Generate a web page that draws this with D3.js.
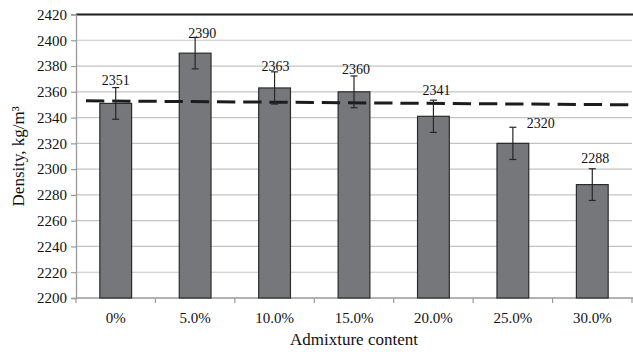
<!DOCTYPE html>
<html>
<head>
<meta charset="utf-8">
<script src="https://cdn.jsdelivr.net/npm/d3@7"></script>
<style>
  html, body { margin: 0; padding: 0; background: #fff; }
  svg { display: block; }
</style>
</head>
<body>
<svg id="chart" width="633" height="352"></svg>
<script>
// Density of the mixes by admixture content
const categories = ["0%", "5.0%", "10.0%", "15.0%", "20.0%", "25.0%", "30.0%"];
const density = [2351, 2390, 2363, 2360, 2341, 2320, 2288];
const errors = [12.3, 12.2, 12.5, 12.3, 12.5, 12.5, 12.3];
const yTicks = [2200, 2220, 2240, 2260, 2280, 2300, 2320, 2340, 2360, 2380, 2400, 2420];
// dashed reference line: category position (index) and value at each end
const trendPos = [-0.374, 6.5];
const trendValue = [2353.0, 2349.9];

// label nudges (px) for the value labels
const labelDx = [0, 7, 1, 2, 3, 28, 3];
const labelDy = [-18, -15.5, -16.5, -18, -21, -15.5, -22];

const FONT = "Liberation Serif";
const margin = { left: 76, right: 1, top: 14.5, bottom: 54 };
const W = 633, H = 352;
const svg = d3.select("#chart").attr("font-family", FONT);

const x = d3.scaleBand().domain(categories)
  .range([margin.left, W - margin.right]).paddingInner(0.6).paddingOuter(0.3);
const xBoundary = d3.scaleLinear().domain([-0.5, categories.length - 0.5])
  .range([margin.left, W - margin.right]);
const y = d3.scaleLinear().domain([2200, 2420]).range([H - margin.bottom, margin.top]);

// horizontal gridlines
svg.append("g").selectAll("line").data(yTicks.slice(1, -1)).join("line")
  .attr("x1", margin.left).attr("x2", W - margin.right)
  .attr("y1", d => y(d)).attr("y2", d => y(d))
  .attr("stroke", "#c4c4c4").attr("stroke-width", 1.2);

// top border
svg.append("line")
  .attr("x1", margin.left).attr("x2", W)
  .attr("y1", y(2420)).attr("y2", y(2420))
  .attr("stroke", "#1c1c1c").attr("stroke-width", 1.8);

// y axis
const yAxis = svg.append("g").attr("transform", `translate(${margin.left},0)`)
  .call(d3.axisLeft(y).tickValues(yTicks).tickSize(5).tickPadding(4).tickFormat(d3.format("d")));
yAxis.attr("font-family", FONT).attr("font-size", 15);
yAxis.select(".domain").attr("stroke", "#9a9a9a").attr("stroke-width", 1.3);
yAxis.selectAll(".tick line").attr("stroke", "#9a9a9a").attr("stroke-width", 1.2);
yAxis.selectAll(".tick text").attr("fill", "#111").attr("font-size", 15)
  .attr("font-family", FONT);

// x axis
const xAxisG = svg.append("g");
xAxisG.append("line")
  .attr("x1", margin.left).attr("x2", W)
  .attr("y1", y(2200)).attr("y2", y(2200))
  .attr("stroke", "#9a9a9a").attr("stroke-width", 1.3);
xAxisG.selectAll("line.tk").data(d3.range(categories.length + 1)).join("line")
  .attr("class", "tk")
  .attr("x1", i => xBoundary(i - 0.5)).attr("x2", i => xBoundary(i - 0.5))
  .attr("y1", y(2200)).attr("y2", y(2200) + 5)
  .attr("stroke", "#9a9a9a").attr("stroke-width", 1.2);
xAxisG.selectAll("text").data(categories).join("text")
  .attr("x", d => x(d) + x.bandwidth() / 2)
  .attr("y", y(2200) + 24.5)
  .attr("text-anchor", "middle")
  .attr("font-family", FONT)
  .attr("font-size", 15).attr("fill", "#111")
  .text(d => d);

// bars
svg.append("g").selectAll("rect").data(density).join("rect")
  .attr("x", (d, i) => x(categories[i]))
  .attr("y", d => y(d))
  .attr("width", x.bandwidth())
  .attr("height", d => y(2200) - y(d))
  .attr("fill", "#76777b")
  .attr("stroke", "#2b2b2b").attr("stroke-width", 1.2);

// dashed line
svg.append("line")
  .attr("x1", xBoundary(trendPos[0])).attr("x2", xBoundary(trendPos[1]))
  .attr("y1", y(trendValue[0])).attr("y2", y(trendValue[1]))
  .attr("stroke", "#1c1c1c").attr("stroke-width", 3)
  .attr("stroke-dasharray", "18.3,7.9");

// error bars
const eb = svg.append("g").attr("stroke", "#262626").attr("stroke-width", 1.2);
density.forEach((d, i) => {
  const cx = x(categories[i]) + x.bandwidth() / 2;
  const top = y(d + errors[i]), bot = y(d - errors[i]);
  eb.append("line").attr("x1", cx).attr("x2", cx).attr("y1", top).attr("y2", bot);
  eb.append("line").attr("x1", cx - 3.5).attr("x2", cx + 3.5).attr("y1", top).attr("y2", top);
  eb.append("line").attr("x1", cx - 3.5).attr("x2", cx + 3.5).attr("y1", bot).attr("y2", bot);
});

// value labels
svg.append("g").selectAll("text").data(density).join("text")
  .attr("x", (d, i) => x(categories[i]) + x.bandwidth() / 2 + labelDx[i])
  .attr("y", (d, i) => y(d) + labelDy[i])
  .attr("text-anchor", "middle")
  .attr("font-family", FONT)
  .attr("font-size", 14).attr("fill", "#111")
  .text(d => d);

// axis titles
svg.append("text")
  .attr("x", (margin.left + W - margin.right) / 2).attr("y", 345)
  .attr("text-anchor", "middle").attr("font-size", 17).attr("fill", "#111")
  .attr("font-family", FONT)
  .text("Admixture content");

svg.append("text")
  .attr("transform", `translate(24,${(margin.top + H - margin.bottom) / 2}) rotate(-90)`)
  .attr("text-anchor", "middle").attr("font-size", 17).attr("fill", "#111")
  .attr("font-family", FONT)
  .text("Density, kg/m³");
</script>
</body>
</html>
